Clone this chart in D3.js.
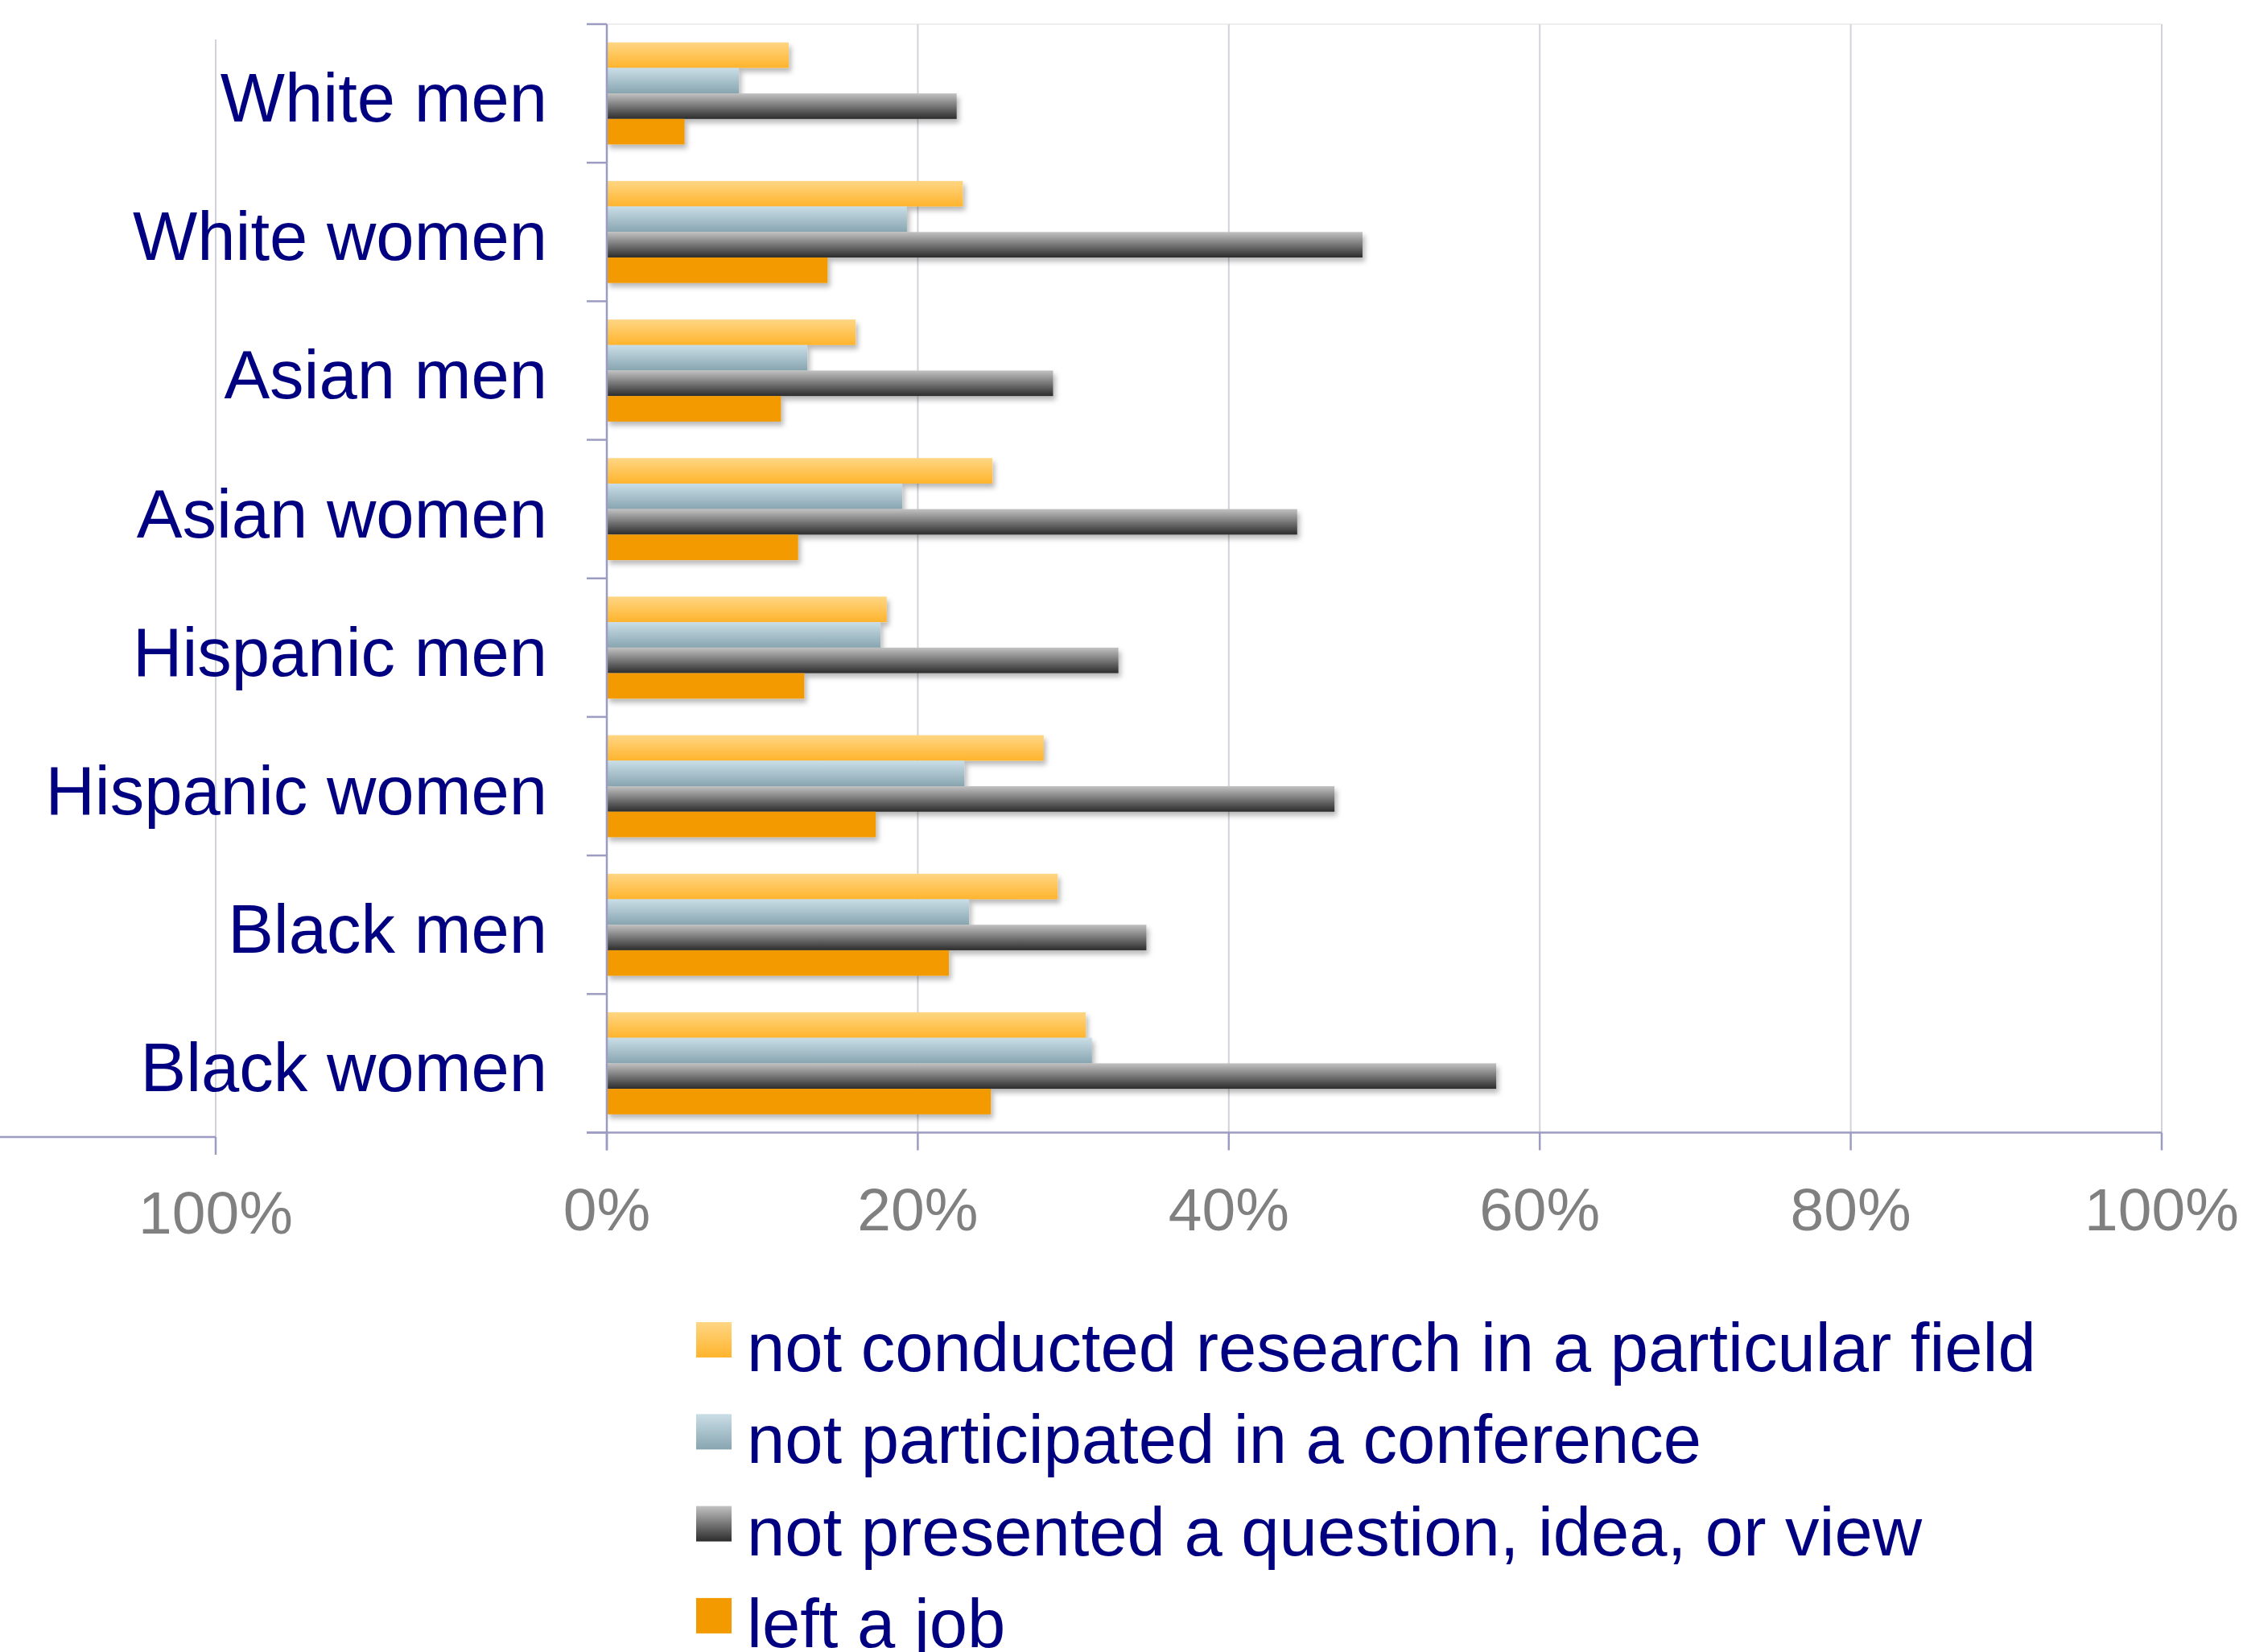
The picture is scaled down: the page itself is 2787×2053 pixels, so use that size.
<!DOCTYPE html>
<html>
<head>
<meta charset="utf-8">
<script src="https://cdn.jsdelivr.net/npm/d3@7"></script>
<style>
  html, body { margin: 0; padding: 0; background: #ffffff; }
  svg { display: block; font-family: "Liberation Sans", Arial, sans-serif; }
</style>
</head>
<body>
<svg id="chart" width="2787" height="2053"></svg>
<script>
// ---- data ----
const categories = ["White men", "White women", "Asian men", "Asian women",
                    "Hispanic men", "Hispanic women", "Black men", "Black women"];
const seriesNames = ["not conducted research in a particular field",
                     "not participated in a conference",
                     "not presented a question, idea, or view",
                     "left a job"];
const researchField = [0.117, 0.229, 0.160, 0.248, 0.180, 0.281, 0.290, 0.308];
const conference    = [0.085, 0.193, 0.129, 0.190, 0.176, 0.230, 0.233, 0.312];
const presented     = [0.225, 0.486, 0.287, 0.444, 0.329, 0.468, 0.347, 0.572];
const leftJob       = [0.050, 0.142, 0.112, 0.123, 0.127, 0.173, 0.220, 0.247];
const seriesValues = [researchField, conference, presented, leftJob];
const xTicks = [0, 0.2, 0.4, 0.6, 0.8, 1.0];
const xTickLabels = ["0%", "20%", "40%", "60%", "80%", "100%"];
const leftTicks = [1.0];
const leftTickLabels = ["100%"];

// ---- styles ----
const gradStops = [
  ["#FFD684", "#FFB42C"],
  ["#CADEE7", "#87A5B0"],
  ["#C2C2C2", "#2C2C2C"],
  ["#F39A00", "#F39A00"]
];
const axisColor = "#9C9CC2";
const gridColor = "#D2D2DA";
const navy = "#000080";
const tickGray = "#808080";

const svg = d3.select("#chart");
const defs = svg.append("defs");
gradStops.forEach((s, i) => {
  const g = defs.append("linearGradient").attr("id", "g" + i)
    .attr("x1", 0).attr("y1", 0).attr("x2", 0).attr("y2", 1);
  g.append("stop").attr("offset", "0%").attr("stop-color", s[0]);
  g.append("stop").attr("offset", "100%").attr("stop-color", s[1]);
});
const f = defs.append("filter").attr("id", "shadow")
  .attr("x", "-5%").attr("y", "-20%").attr("width", "115%").attr("height", "160%");
f.append("feDropShadow").attr("dx", 3).attr("dy", 5).attr("stdDeviation", 3)
  .attr("flood-color", "#000").attr("flood-opacity", 0.28);

// ---- scales ----
const plotTop = 30, plotBottom = 1407.5;
const x = d3.scaleLinear().domain([0, 1]).range([754, 2686]);
const y = d3.scaleBand().domain(categories).range([plotTop, plotBottom]).padding(0);
const yInner = d3.scaleBand().domain(d3.range(seriesNames.length))
  .range([0, y.bandwidth()]).paddingInner(0).paddingOuter(0.716);
// left (mirrored) axis fragment
const xLeft = d3.scaleLinear().domain([1, 0]).range([268, 268 + 1932]);

// ---- gridlines ----
svg.append("line").attr("x1", x(0)).attr("x2", x(1)).attr("y1", plotTop).attr("y2", plotTop)
  .attr("stroke", "#EEEEEE").attr("stroke-width", 2);
svg.append("g").selectAll("line").data(xTicks.filter(d => d > 0)).join("line")
  .attr("x1", d => x(d)).attr("x2", d => x(d))
  .attr("y1", plotTop).attr("y2", plotBottom)
  .attr("stroke", gridColor).attr("stroke-width", 2);
svg.append("g").selectAll("line").data(leftTicks).join("line")
  .attr("x1", d => xLeft(d)).attr("x2", d => xLeft(d))
  .attr("y1", 49).attr("y2", 1413)
  .attr("stroke", gridColor).attr("stroke-width", 2);

// ---- bars ----
const groups = svg.append("g").selectAll("g").data(categories).join("g")
  .attr("transform", d => `translate(0,${y(d)})`);
groups.selectAll("rect")
  .data((c, ci) => seriesValues.map((vals, si) => ({ si, v: vals[ci] })))
  .join("rect")
  .attr("x", x(0))
  .attr("y", d => yInner(d.si))
  .attr("width", d => x(d.v) - x(0))
  .attr("height", yInner.bandwidth())
  .attr("fill", d => `url(#g${d.si})`)
  .attr("filter", "url(#shadow)");

// ---- axes ----
const yAxis = svg.append("g");
yAxis.append("line").attr("x1", x(0)).attr("x2", x(0))
  .attr("y1", plotTop).attr("y2", plotBottom + 22)
  .attr("stroke", axisColor).attr("stroke-width", 2.5);
const boundaries = categories.map(c => y(c)).concat([plotBottom]);
yAxis.selectAll("line.tick").data(boundaries).join("line").attr("class", "tick")
  .attr("x1", x(0) - 25).attr("x2", x(0)).attr("y1", d => d).attr("y2", d => d)
  .attr("stroke", axisColor).attr("stroke-width", 2.5);

const xAxis = svg.append("g");
xAxis.append("line").attr("x1", x(0) - 25).attr("x2", x(1))
  .attr("y1", plotBottom).attr("y2", plotBottom)
  .attr("stroke", axisColor).attr("stroke-width", 2.5);
xAxis.selectAll("line.tick").data(xTicks).join("line").attr("class", "tick")
  .attr("x1", d => x(d)).attr("x2", d => x(d))
  .attr("y1", plotBottom).attr("y2", plotBottom + 22)
  .attr("stroke", axisColor).attr("stroke-width", 2.5);
xAxis.selectAll("text").data(xTicks).join("text")
  .attr("x", d => x(d)).attr("y", 1529)
  .attr("text-anchor", "middle").attr("fill", tickGray)
  .attr("font-size", 75).text((d, i) => xTickLabels[i]);

// left axis fragment
const lAxis = svg.append("g");
lAxis.append("line").attr("x1", 0).attr("x2", xLeft(1))
  .attr("y1", 1413).attr("y2", 1413)
  .attr("stroke", axisColor).attr("stroke-width", 2.5);
lAxis.selectAll("line.tick").data(leftTicks).join("line").attr("class", "tick")
  .attr("x1", d => xLeft(d)).attr("x2", d => xLeft(d))
  .attr("y1", 1413).attr("y2", 1435)
  .attr("stroke", axisColor).attr("stroke-width", 2.5);
lAxis.selectAll("text").data(leftTicks).join("text")
  .attr("x", d => xLeft(d)).attr("y", 1533)
  .attr("text-anchor", "middle").attr("fill", tickGray)
  .attr("font-size", 75).text((d, i) => leftTickLabels[i]);

// category labels
svg.append("g").selectAll("text").data(categories).join("text")
  .attr("x", 680).attr("y", d => y(d) + y.bandwidth() / 2 + 35)
  .attr("text-anchor", "end").attr("fill", navy)
  .attr("font-size", 85).text(d => d);

// ---- legend ----
const legend = svg.append("g");
const rows = legend.selectAll("g").data(seriesNames).join("g")
  .attr("transform", (d, i) => `translate(0,${1704 + i * 114.3})`);
rows.append("rect").attr("x", 865).attr("y", -61).attr("width", 44).attr("height", 44)
  .attr("fill", (d, i) => `url(#g${i})`);
rows.append("text").attr("x", 928).attr("y", 0)
  .attr("fill", navy).attr("font-size", 85).text(d => d);
</script>
</body>
</html>
